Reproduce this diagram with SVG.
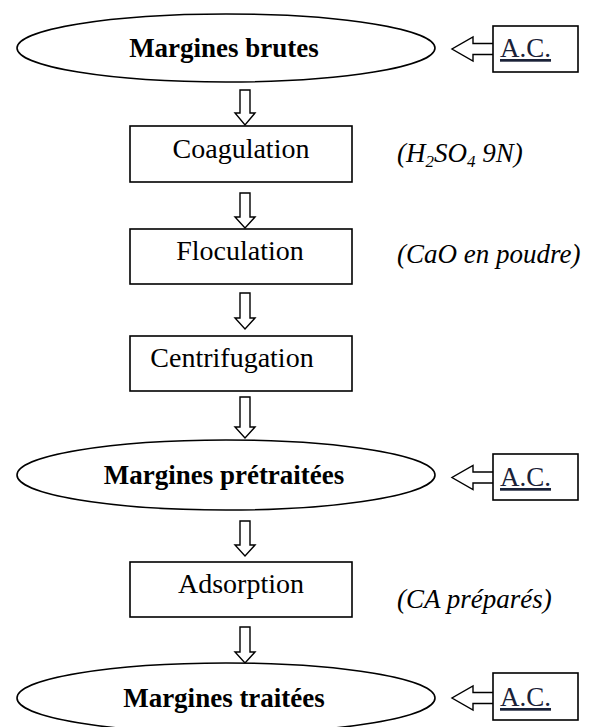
<svg xmlns="http://www.w3.org/2000/svg" width="598" height="727" viewBox="0 0 598 727">
<style>
.shape{fill:#fff;stroke:#000;stroke-width:1.6}
.arr{fill:#fff;stroke:#000;stroke-width:1.4;stroke-linejoin:miter}
.bold{font-family:"Liberation Serif","Times New Roman",serif;font-weight:bold;font-size:27px;fill:#000;text-anchor:middle}
.reg{font-family:"Liberation Serif","Times New Roman",serif;font-size:28px;fill:#000;text-anchor:middle}
.it{font-family:"Liberation Serif","Times New Roman",serif;font-style:italic;font-size:27px;fill:#000}
.ac{font-family:"Liberation Serif","Times New Roman",serif;font-size:27px;fill:#1a2238;text-decoration:underline}
</style>
<rect width="598" height="727" fill="#fff"/>
<g id="connectors">
  <path class="arr" d="M240,90 H250 V113 H255 L245,125 L235,113 H240 Z"/>
  <path class="arr" d="M240,193 H250 V217 H255 L245,228 L235,217 H240 Z"/>
  <path class="arr" d="M240,293 H250 V318 H255 L245,329 L235,318 H240 Z"/>
  <path class="arr" d="M240,397 H250 V427 H255 L245,438 L235,427 H240 Z"/>
  <path class="arr" d="M240,521 H250 V545 H255 L245,556 L235,545 H240 Z"/>
  <path class="arr" d="M240,627 H250 V652 H255 L245,663 L235,652 H240 Z"/>
  <path class="arr" d="M493,43.5 H473 V37 L452,49 L473,61 V54.5 H493"/>
  <path class="arr" d="M493,472 H473 V465.5 L452,477.5 L473,489.5 V483 H493"/>
  <path class="arr" d="M493,692.5 H473 V686 L452,698 L473,710 V703.5 H493"/>
</g>
<g id="margines-brutes">
  <ellipse class="shape" cx="226" cy="48" rx="209" ry="34"/>
  <text class="bold" x="224" y="57">Margines brutes</text>
</g>
<g id="ac1">
  <rect class="shape" x="493" y="26" width="85" height="46"/>
  <text class="ac" x="500" y="57">A.C.</text>
</g>
<g id="coagulation">
  <rect class="shape" x="130" y="126" width="222" height="56"/>
  <text class="reg" x="241" y="158">Coagulation</text>
</g>
<g id="label-h2so4">
  <text class="it" x="397" y="162">(H<tspan font-size="17" dy="5">2</tspan><tspan dy="-5">SO</tspan><tspan font-size="17" dy="5">4</tspan><tspan dy="-5"> 9N)</tspan></text>
</g>
<g id="floculation">
  <rect class="shape" x="130" y="229" width="222" height="55"/>
  <text class="reg" x="240" y="260">Floculation</text>
</g>
<g id="label-cao">
  <text class="it" x="397" y="263" font-size="26">(CaO en poudre)</text>
</g>
<g id="centrifugation">
  <rect class="shape" x="130" y="336" width="222" height="55"/>
  <text class="reg" x="232" y="367">Centrifugation</text>
</g>
<g id="margines-pretraitees">
  <ellipse class="shape" cx="226" cy="475" rx="209" ry="35"/>
  <text class="bold" x="224" y="484">Margines prétraitées</text>
</g>
<g id="ac2">
  <rect class="shape" x="493" y="454" width="85" height="46"/>
  <text class="ac" x="500" y="486">A.C.</text>
</g>
<g id="adsorption">
  <rect class="shape" x="130" y="562" width="222" height="55"/>
  <text class="reg" x="241" y="593">Adsorption</text>
</g>
<g id="label-ca">
  <text class="it" x="397" y="608">(CA préparés)</text>
</g>
<g id="margines-traitees">
  <ellipse class="shape" cx="226" cy="698" rx="209" ry="35"/>
  <text class="bold" x="224" y="707">Margines traitées</text>
</g>
<g id="ac3">
  <rect class="shape" x="493" y="673" width="85" height="47"/>
  <text class="ac" x="500" y="706">A.C.</text>
</g>
</svg>
